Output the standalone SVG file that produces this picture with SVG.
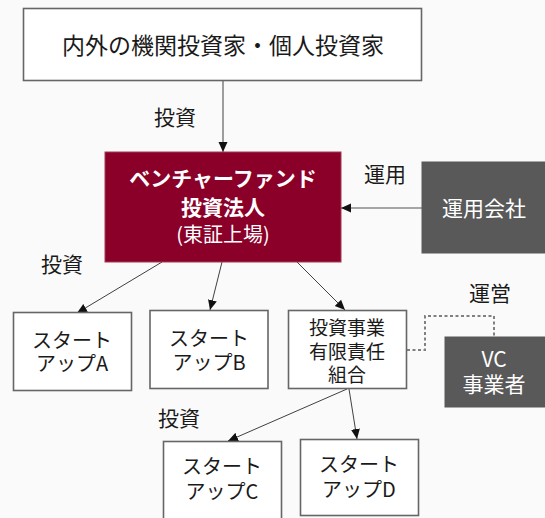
<svg xmlns="http://www.w3.org/2000/svg" width="545" height="518" viewBox="0 0 545 518">
<style>
text{font-family:"Noto Sans CJK JP","Noto Sans",sans-serif;dominant-baseline:central;text-anchor:middle;fill:#1a1a1a}
.box{fill:#ffffff;stroke:#666666;stroke-width:1.6}
.red{fill:#8b0028;stroke:#a33a55;stroke-width:1}
.dark{fill:#595959;stroke:#595959}
.w{fill:#ffffff}
.c{stroke:#404040;stroke-width:1;fill:none;marker-end:url(#ah)}
.lbl{font-size:21px}
</style>
<defs>
<marker id="ah" markerUnits="userSpaceOnUse" markerWidth="10" markerHeight="10" viewBox="0 0 10 10" refX="10" refY="5" orient="auto">
<path d="M0,0.5 L10,5 L0,9.5 Z" fill="#111"/>
</marker>
</defs>
<rect x="0" y="0" width="545" height="518" fill="#fafafa"/>
<g id="connectors">
<line class="c" x1="223" y1="80" x2="223" y2="152"/>
<line x1="422" y1="208" x2="350" y2="208" stroke="#a6a6a6" stroke-width="2"/>
<line class="c" x1="350" y1="208" x2="341" y2="208" stroke-width="0.1"/>
<line class="c" x1="162" y1="262" x2="77" y2="313"/>
<line class="c" x1="222" y1="262" x2="210" y2="310"/>
<line class="c" x1="297" y1="262" x2="345" y2="310"/>
<line class="c" x1="347" y1="389" x2="228" y2="441"/>
<line class="c" x1="349" y1="389" x2="357" y2="439"/>
<path d="M407,350 H425 V316 H494 V337" fill="none" stroke="#808080" stroke-width="2" stroke-dasharray="3,2.5"/>
<text class="lbl" x="175" y="116">投資</text>
<text class="lbl" x="385" y="173">運用</text>
<text class="lbl" x="62" y="263">投資</text>
<text class="lbl" x="490" y="292">運営</text>
<text class="lbl" x="179" y="417">投資</text>
</g>
<g id="investors">
<rect class="box" x="23.5" y="8.5" width="398" height="72"/>
<text x="223" y="43.5" font-size="23">内外の機関投資家・個人投資家</text>
</g>
<g id="fund">
<rect class="red" x="105" y="152" width="236" height="110"/>
<text class="w" x="223" y="177" font-size="21" font-weight="bold">ベンチャーファンド<tspan x="223" dy="29">投資法人</tspan><tspan x="223" dy="27" font-size="20" font-weight="normal">(東証上場)</tspan></text>
</g>
<g id="mgmt">
<rect class="dark" x="422" y="162" width="130" height="91"/>
<text class="w" x="484" y="207" font-size="21">運用会社</text>
</g>
<g id="startupA">
<rect class="box" x="13.5" y="312.5" width="118" height="78"/>
<text x="72" y="339" font-size="20">スタート<tspan x="72" dy="23">アップA</tspan></text>
</g>
<g id="startupB">
<rect class="box" x="150" y="310.5" width="118" height="78"/>
<text x="209" y="337" font-size="20">スタート<tspan x="209" dy="24">アップB</tspan></text>
</g>
<g id="llp">
<rect class="box" x="288.5" y="310.5" width="118" height="78"/>
<text x="347" y="326" font-size="19">投資事業<tspan x="347" dy="24">有限責任</tspan><tspan x="347" dy="23">組合</tspan></text>
</g>
<g id="vc">
<rect class="dark" x="445" y="337" width="105" height="70"/>
<text class="w" x="494" y="358" font-size="21">VC<tspan x="494" dy="25">事業者</tspan></text>
</g>
<g id="startupC">
<rect class="box" x="163.5" y="441.5" width="118" height="85"/>
<text x="222" y="465" font-size="20">スタート<tspan x="222" dy="25">アップC</tspan></text>
</g>
<g id="startupD">
<rect class="box" x="300.5" y="439.5" width="118" height="76"/>
<text x="359" y="463" font-size="20">スタート<tspan x="359" dy="25">アップD</tspan></text>
</g>
</svg>
